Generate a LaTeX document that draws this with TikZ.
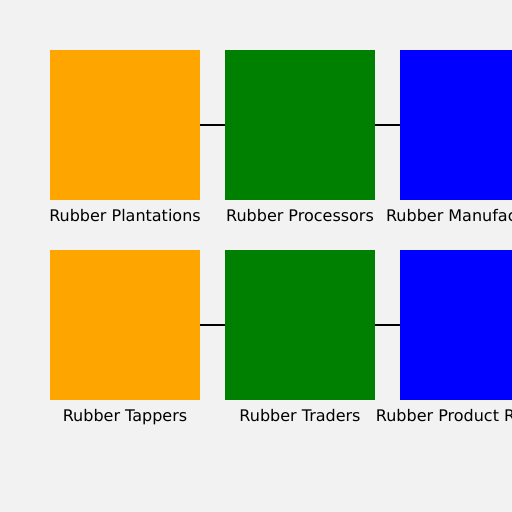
\documentclass[tikz,border=0pt]{standalone}
\usepackage{fontspec}
\setmainfont{DejaVu Sans}
\definecolor{bggray}{HTML}{F2F2F2}
\definecolor{plantorange}{HTML}{FFA500}
\definecolor{procgreen}{HTML}{008000}
\definecolor{manublue}{HTML}{0000FF}
\begin{document}
\begin{tikzpicture}[x=1pt,y=-1pt,
	box/.style={draw=none, minimum size=150pt, inner sep=0pt, outer sep=0pt},
	label/.style={font=\fontsize{16}{18}\selectfont, anchor=base, inner sep=0pt},
	link/.style={line width=1.5pt}]
	% Draw the background
	\fill[bggray] (0,0) rectangle (512,512);
	\useasboundingbox (0,0) rectangle (512,512);
	\clip (0,0) rectangle (512,512);
	
	% Draw the top row of boxes
	\node[box, fill=plantorange] (plant) at (125,125) {};
	\node[box, fill=procgreen] (proc) at (300,125) {};
	\node[box, fill=manublue] (manu) at (475,125) {};
	
	% Draw the bottom row of boxes
	\node[box, fill=plantorange] (tap) at (125,325) {};
	\node[box, fill=procgreen] (trade) at (300,325) {};
	\node[box, fill=manublue] (retail) at (475,325) {};
	
	% Draw the links between the boxes
	\foreach \a/\b in {plant/proc, proc/manu, tap/trade, trade/retail} {
		\draw[link] (\a.east) -- (\b.west);
	}
	
	% Draw the box labels
	\node[label] (plantlbl) at (125,221.5) {Rubber Plantations};
	\node[label] (proclbl) at (300,221.5) {Rubber Processors};
	\node[label] (manulbl) at (475,221.5) {Rubber Manufacturers};
	\node[label] (taplbl) at (125,421.5) {Rubber Tappers};
	\node[label] (tradelbl) at (300,421.5) {Rubber Traders};
	\node[label] (retaillbl) at (475,421.5) {Rubber Product Retailers};
	
\end{tikzpicture}
\end{document}
